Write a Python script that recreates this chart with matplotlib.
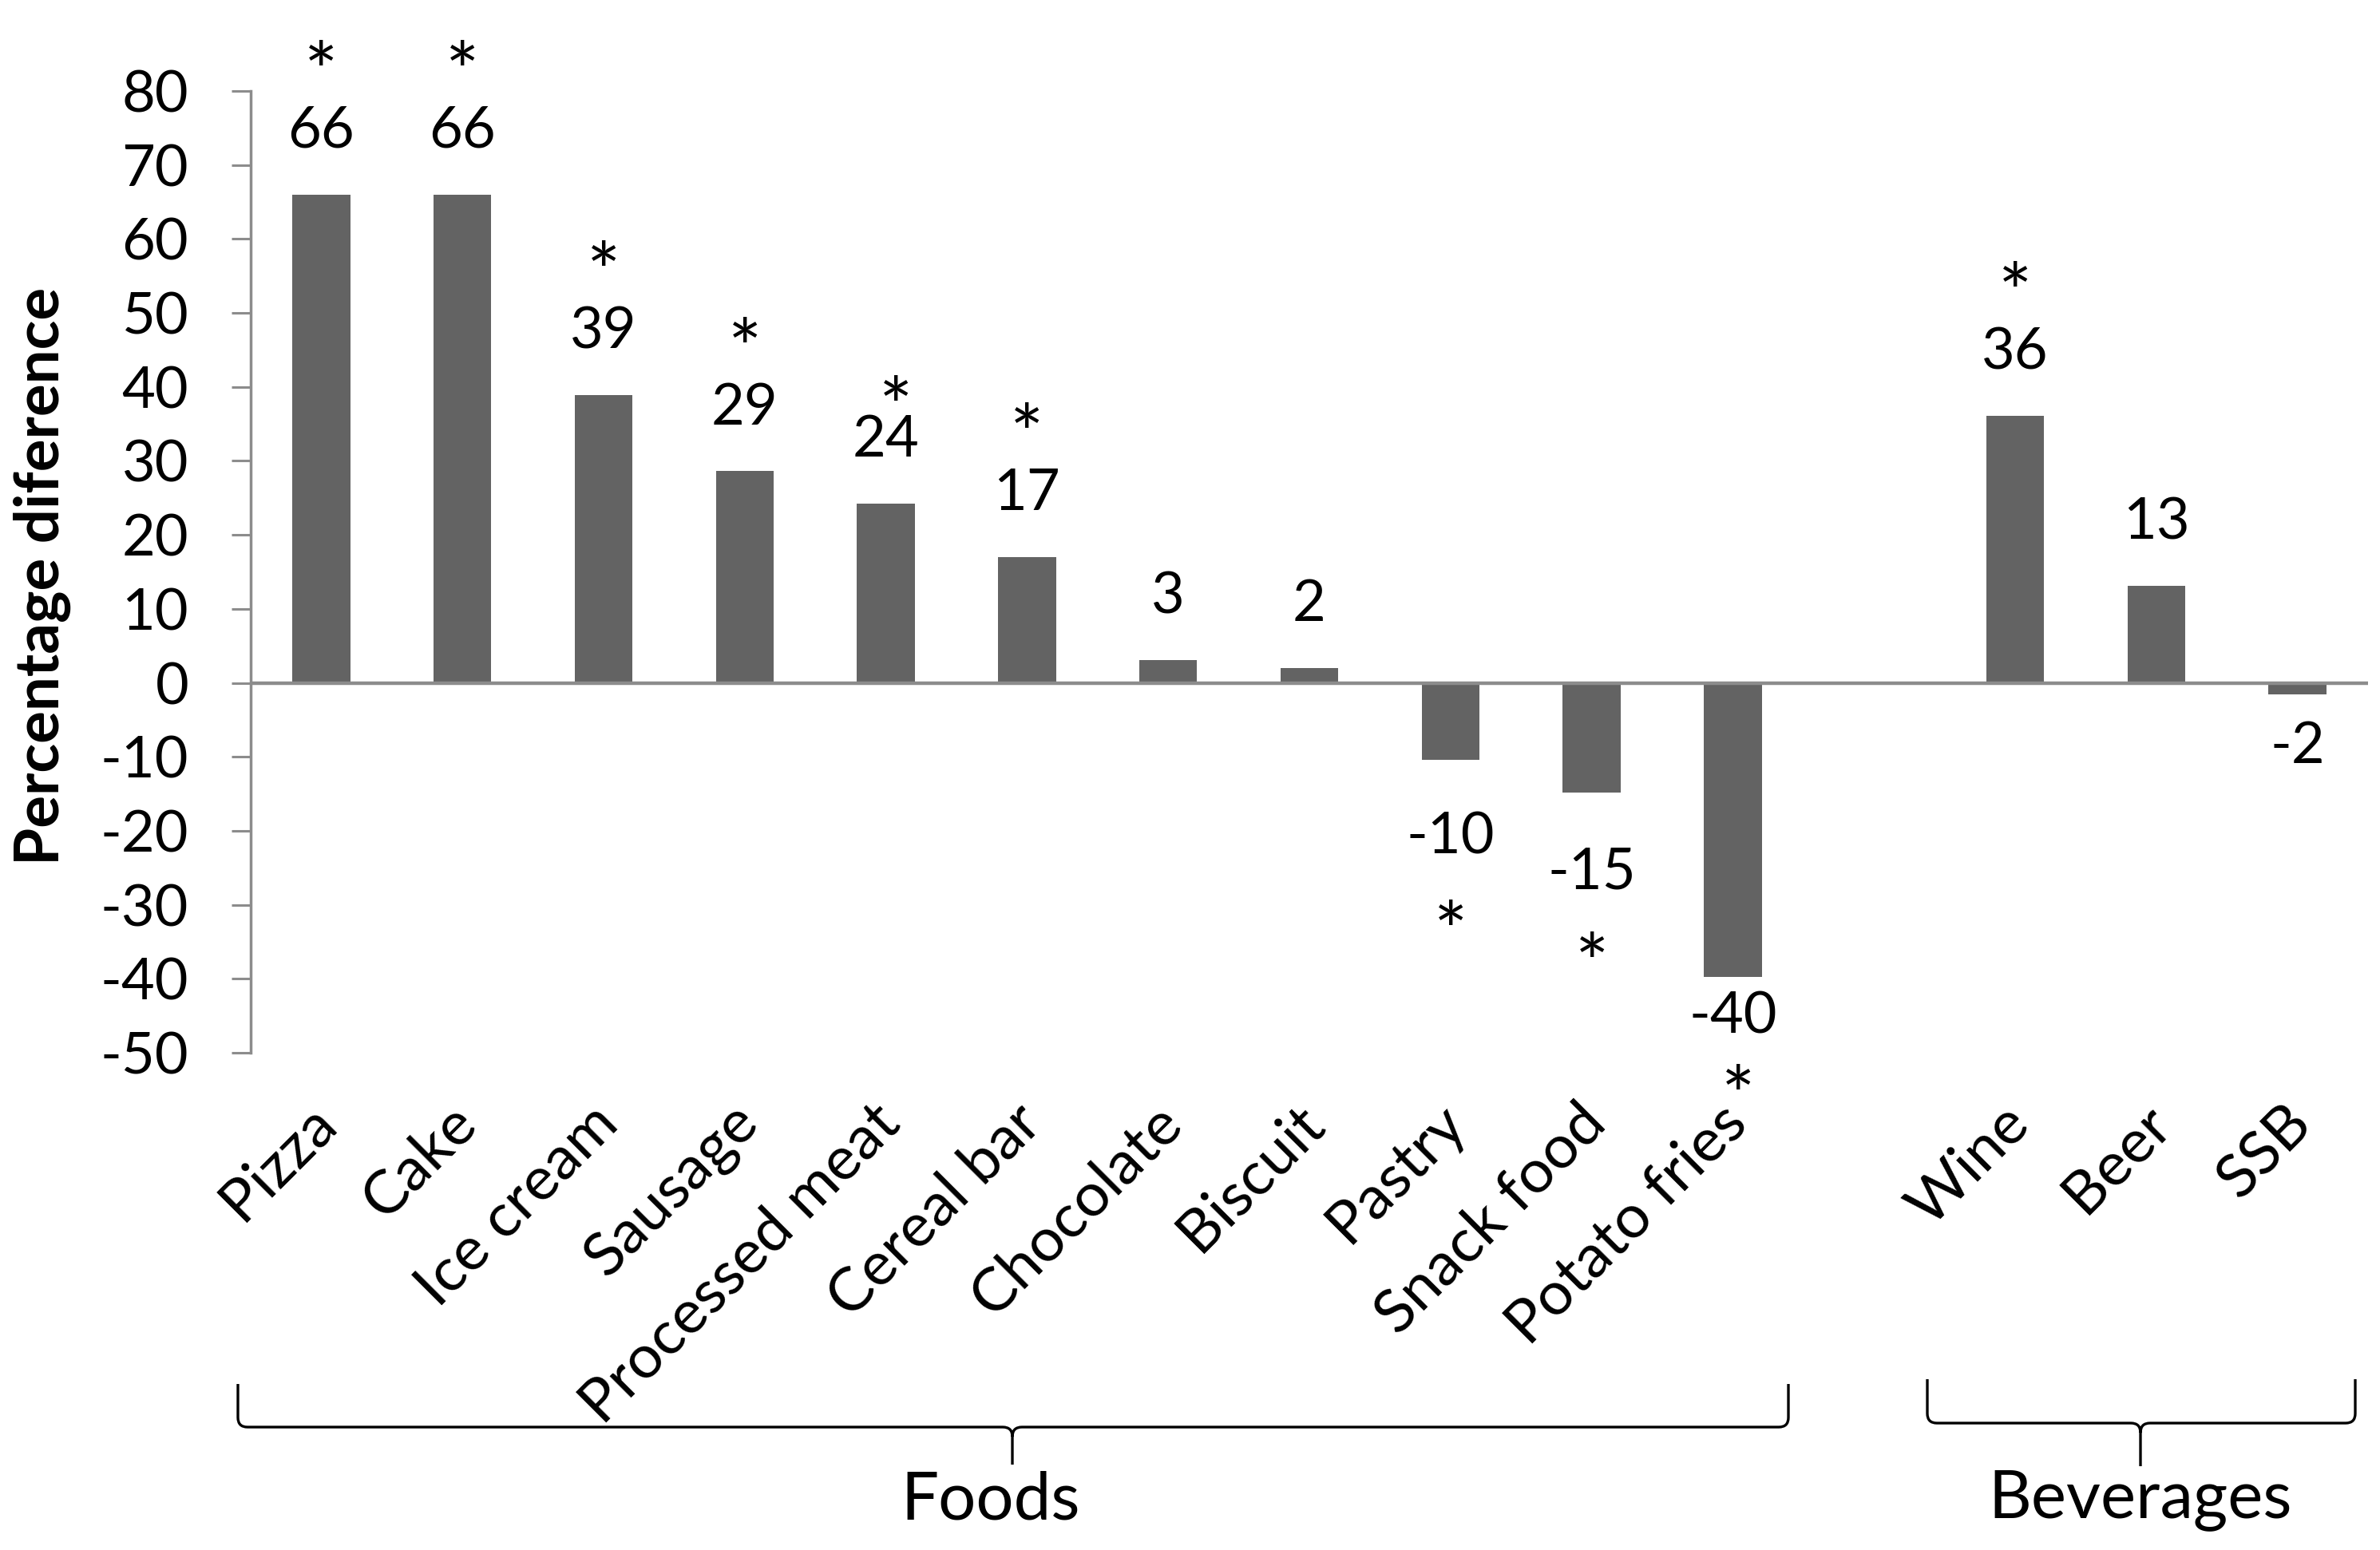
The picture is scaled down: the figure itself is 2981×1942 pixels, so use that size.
import numpy as np
import matplotlib.pyplot as plt
from matplotlib.path import Path
from matplotlib.patches import PathPatch
from matplotlib.transforms import ScaledTranslation

# data
foods = ["Pizza", "Cake", "Ice cream", "Sausage", "Processed meat", "Cereal bar",
         "Chocolate", "Biscuit", "Pastry", "Snack food", "Potato fries"]
food_values = [66.0, 66.0, 38.9, 28.6, 24.2, 17.0, 3.1, 2.0, -10.4, -14.8, -39.7]
food_signif = [True, True, True, True, True, True, False, False, True, True, True]

beverages = ["Wine", "Beer", "SSB"]
beverage_values = [36.1, 13.1, -1.6]
beverage_signif = [True, False, False]

yticks = [80, 70, 60, 50, 40, 30, 20, 10, 0, -10, -20, -30, -40, -50]

plt.rcParams["font.family"] = ["Lato", "DejaVu Sans"]
plt.rcParams["axes.unicode_minus"] = False
FS = 52
STAR_FS = 72
BAR = "#636363"
GREY = "#8c8c8c"

W, H = 2981, 1942
fig = plt.figure(figsize=(W / 100, H / 100), dpi=100)
ax = fig.add_axes([314 / W, 1 - 1319 / H, (2966 - 314) / W, (1319 - 114) / H])

# foods in slots 0..10, one empty slot, then beverages
x_food = np.arange(len(foods))
x_bev = np.arange(len(beverages)) + len(foods) + 1
names = foods + beverages
xs = np.concatenate([x_food, x_bev])
values = food_values + beverage_values
signif = food_signif + beverage_signif

ax.bar(xs, values, width=0.41, color=BAR, zorder=2)
ax.axhline(0, color=GREY, lw=3.2, zorder=3)

ax.set_xlim(-0.5, xs[-1] + 0.5)
ax.set_ylim(-50, 80)
ax.set_yticks(yticks)
ax.tick_params(axis="y", length=17, width=2.2, color=GREY, pad=39, labelsize=FS)
ax.spines["left"].set_color(GREY)
ax.spines["left"].set_linewidth(2.5)
ax.spines["left"].set_bounds(-50, 80)
for s in ["top", "right", "bottom"]:
    ax.spines[s].set_visible(False)

ax.set_xticks(xs)
ax.set_xticklabels(names, rotation=45, ha="right", va="center",
                   rotation_mode="anchor", fontsize=55)
ax.tick_params(axis="x", length=0, pad=55)
for lab in ax.get_xticklabels():
    lab.set_transform(lab.get_transform() + ScaledTranslation(0.06, 0, fig.dpi_scale_trans))

# value labels with significance stars; a few were nudged by hand in the original
nudge = {
    "Processed meat": {"star": 39.5, "star_dx": 0.07},
    "Potato fries": {"num": -44.5, "star": -53.6, "star_dx": 0.04},
    "SSB": {"num": -8.0},
    "Snack food": {"num": -25.0, "star": -35.7},
}
for name, xi, v, sig in zip(names, xs, values, signif):
    up = v >= 0
    ny = v + 9.2 if up else v - 9.8
    sy = ny + 9.6 if up else ny - 11.2
    nd = nudge.get(name, {})
    ny = nd.get("num", ny)
    sy = nd.get("star", sy)
    ax.text(xi, ny, f"{v:.0f}", ha="center", va="center_baseline", fontsize=FS)
    if sig:
        ax.text(xi + nd.get("star_dx", 0), sy - 2.1, "*", ha="center",
                va="center_baseline", fontsize=STAR_FS)

fig.text(53 / W, 1 - 722 / H, "Percentage diference", rotation=90, ha="center",
         va="center", fontsize=55, fontweight="bold")


def brace(x0, x1, xc, y_top, y_line, y_tip, r=12):
    # curly bracket drawn in pixel coords, converted to figure fraction
    pts = [(x0, y_top), (x0, y_line - r), (x0, y_line), (x0 + r, y_line),
           (xc - r, y_line), (xc, y_line), (xc, y_line + r), (xc, y_tip)]
    codes = [Path.MOVETO, Path.LINETO, Path.CURVE3, Path.CURVE3,
             Path.LINETO, Path.CURVE3, Path.CURVE3, Path.LINETO]
    pts2 = [(x1, y_top), (x1, y_line - r), (x1, y_line), (x1 - r, y_line),
            (xc + r, y_line), (xc, y_line), (xc, y_line + r)]
    codes2 = [Path.MOVETO, Path.LINETO, Path.CURVE3, Path.CURVE3,
              Path.LINETO, Path.CURVE3, Path.CURVE3]
    allpts = [(px / W, 1 - py / H) for px, py in pts + pts2]
    p = Path(allpts, codes + codes2)
    fig.add_artist(PathPatch(p, fill=False, lw=2.4, color="black",
                             transform=fig.transFigure))


brace(298, 2240, 1268, 1734, 1788, 1835)
brace(2414, 2950, 2681, 1728, 1783, 1837)
fig.text(1241 / W, 1 - 1880 / H, "Foods", ha="center", va="center", fontsize=60)
fig.text(2681 / W, 1 - 1880 / H, "Beverages", ha="center", va="center", fontsize=60)

fig.savefig("out.png", dpi=100, facecolor="white")
